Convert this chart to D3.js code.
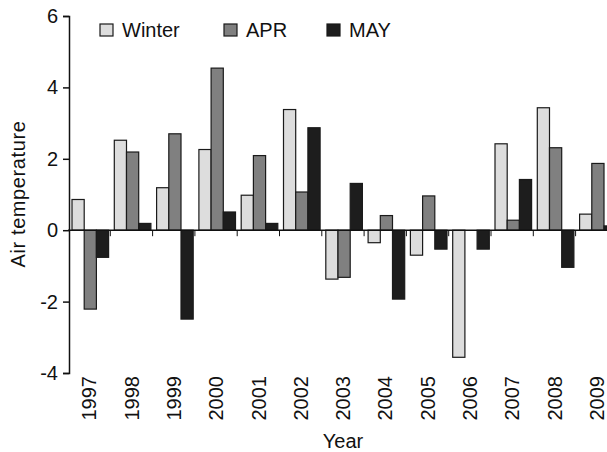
<!DOCTYPE html>
<html>
<head>
<meta charset="utf-8">
<script src="https://cdn.jsdelivr.net/npm/d3@7"></script>
<style>
  body { margin: 0; background: #fff; }
  svg { display: block; font-family: Arial, "Liberation Sans", sans-serif; }
</style>
</head>
<body>
<div id="chart"></div>
<script>
// Air temperature anomalies per year, three seasons
const years = ['1997', '1998', '1999', '2000', '2001', '2002', '2003',
               '2004', '2005', '2006', '2007', '2008', '2009'];
const seriesNames = ['Winter', 'APR', 'MAY'];
const winter = [0.86, 2.52, 1.19, 2.26, 0.98, 3.38, -1.37, -0.35, -0.70, -3.56, 2.42, 3.43, 0.45];
const apr    = [-2.21, 2.19, 2.70, 4.54, 2.09, 1.07, -1.32, 0.41, 0.96, 0.0, 0.28, 2.31, 1.87];
const may    = [-0.76, 0.19, -2.49, 0.51, 0.19, 2.87, 1.31, -1.93, -0.53, -0.53, 1.42, -1.04, 0.12];
const yTicks = [-4, -2, 0, 2, 4, 6];

const colors = { Winter: '#dddddd', APR: '#808080', MAY: '#1d1d1d' };

const width = 607, height = 452;
const bandW = 42.3;
const left = 68;
const fontSize = '20px';

const svg = d3.select('#chart').append('svg')
    .attr('width', width)
    .attr('height', height);

const rows = years.map((y, i) => ({ year: y, Winter: winter[i], APR: apr[i], MAY: may[i] }));

// Scales
const x0 = d3.scaleBand()
    .domain(years)
    .range([left, left + bandW * years.length]);

const x1 = d3.scaleBand()
    .domain(seriesNames)
    .range([4, 40.6]);

const y = d3.scaleLinear()
    .domain([-4, 6])
    .range([373, 16]);

// Bars
const groups = svg.append('g').selectAll('g')
    .data(rows)
    .enter()
    .append('g')
    .attr('transform', d => `translate(${x0(d.year)},0)`);

groups.selectAll('rect')
    .data(d => seriesNames.map(k => ({ key: k, value: d[k] })))
    .enter()
    .append('rect')
    .filter(d => d.value !== 0)
    .attr('x', d => x1(d.key))
    .attr('width', x1.bandwidth())
    .attr('y', d => y(Math.max(0, d.value)))
    .attr('height', d => Math.abs(y(d.value) - y(0)))
    .attr('fill', d => colors[d.key])
    .attr('stroke', '#1a1a1a')
    .attr('stroke-width', 1.2);

// Zero line with ticks between years
const xAxis = svg.append('g')
    .attr('transform', `translate(0,${y(0)})`);

xAxis.append('line')
    .attr('x1', left)
    .attr('x2', width)
    .attr('stroke', '#111')
    .attr('stroke-width', 1.5);

xAxis.selectAll('.sep')
    .data(years.slice(1))
    .enter()
    .append('line')
    .attr('class', 'sep')
    .attr('x1', d => x0(d))
    .attr('x2', d => x0(d))
    .attr('y1', 0)
    .attr('y2', 6)
    .attr('stroke', '#111')
    .attr('stroke-width', 1);

// Year labels, rotated
svg.append('g').selectAll('text')
    .data(years)
    .enter()
    .append('text')
    .attr('transform', d => `translate(${x0(d) + bandW / 2},376) rotate(-90)`)
    .attr('dy', '0.36em')
    .style('text-anchor', 'end')
    .style('font-size', fontSize)
    .attr('fill', '#111')
    .text(d => d);

// Y axis
const yAxis = svg.append('g')
    .attr('transform', `translate(${left + 1},0)`)
    .call(d3.axisLeft(y).tickValues(yTicks).tickSize(6).tickPadding(5).tickFormat(d => String(d)));

yAxis.select('.domain').attr('stroke', '#111').attr('stroke-width', 1.5);
yAxis.selectAll('.tick line').attr('stroke', '#111').attr('stroke-width', 1.5);
yAxis.selectAll('.tick text')
    .style('font-size', fontSize)
    .style('font-family', 'Arial, "Liberation Sans", sans-serif')
    .attr('fill', '#111');

// Axis titles
svg.append('text')
    .attr('transform', 'translate(25,194) rotate(-90)')
    .style('text-anchor', 'middle')
    .style('font-size', fontSize)
    .style('letter-spacing', '0.6px')
    .attr('fill', '#111')
    .text('Air temperature');

svg.append('text')
    .attr('x', 343)
    .attr('y', 448)
    .style('text-anchor', 'middle')
    .style('font-size', fontSize)
    .attr('fill', '#111')
    .text('Year');

// Legend
const legendX = [100, 224, 327];
const legend = svg.append('g').selectAll('g')
    .data(seriesNames)
    .enter()
    .append('g')
    .attr('transform', (d, i) => `translate(${legendX[i]},24)`);

legend.append('rect')
    .attr('width', 13)
    .attr('height', 12)
    .attr('fill', d => colors[d])
    .attr('stroke', '#1a1a1a')
    .attr('stroke-width', 1.2);

legend.append('text')
    .attr('x', 22)
    .attr('y', 13)
    .style('font-size', fontSize)
    .attr('fill', '#111')
    .text(d => d);
</script>
</body>
</html>
